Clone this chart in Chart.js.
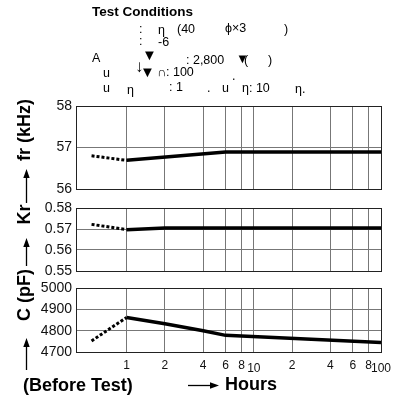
<!DOCTYPE html>
<html>
<head>
<meta charset="utf-8">
<script src="https://cdn.jsdelivr.net/npm/chart.js@4"></script>
<style>
  html, body { margin: 0; padding: 0; background: #fff; }
  #wrap { position: relative; width: 400px; height: 398px; }
  #wrap canvas { position: absolute; left: 0; top: 0; }
</style>
</head>
<body>
<div id="wrap">
  <canvas id="frChart" width="400" height="398"></canvas>
  <canvas id="krChart" width="400" height="398"></canvas>
  <canvas id="capChart" width="400" height="398"></canvas>
</div>
<script>
// x axis (hours, log scale)
const hourTicks = [1, 2, 4, 6, 8, 10, 20, 40, 60, 80, 100];
const hourLabels = ['1', '2', '4', '6', '8', '10', '2', '4', '6', '8', '100'];

// "before test" segment runs from here up to 1 hour
const beforeHours = [0.53, 1];

// resonant frequency fr (kHz)
const frBefore = [56.80, 56.69];
const frHours = [1, 6, 100];
const frValues = [56.69, 56.89, 56.89];

// coupling factor Kr
const krBefore = [0.5722, 0.5697];
const krHours = [1, 2, 100];
const krValues = [0.5697, 0.5705, 0.5705];

// capacitance C (pF)
const capBefore = [4752, 4862];
const capHours = [1, 2, 4, 6, 100];
const capValues = [4862, 4832, 4800, 4778, 4744];

const FONT = "'Liberation Sans', Arial, Helvetica, sans-serif";
const GRID = '#777';
const EDGE = '#222';

// header text, placed by hand (x left, y middle)
const header = [
  ['Test Conditions', 92, 12, 'bold 13.5px'],
  [':', 139, 30], ['\u03B7', 158, 31], ['(40', 177, 30], ['\u03D5\u00D73', 225, 29], [')', 284, 30],
  [':', 139, 42], ['-6', 158, 43],
  ['A', 92, 59], ['\u25BC', 142, 56, '15px'], [': 2,800', 186, 61], ['\u25BC', 236, 59, '13px'], ['(', 244, 61], [')', 268, 61],
  ['u', 103, 74], ['\u2193', 135, 67, 'bold 17px'], ['\u25BC', 140, 73, '15px'], ['\u2229: 100', 157, 73], ['.', 232, 77],
  ['u', 103, 89], ['\u03B7', 127, 91], [': 1', 169, 88], ['.', 207, 89], ['u', 222, 89], ['\u03B7: 10', 242, 89], ['\u03B7.', 295, 90]
];

function arrow(ctx, x1, y1, x2, y2) {
  const a = Math.atan2(y2 - y1, x2 - x1);
  const len = 9, hw = 3.2;
  ctx.beginPath();
  ctx.moveTo(x1, y1);
  ctx.lineTo(x2 - Math.cos(a) * len, y2 - Math.sin(a) * len);
  ctx.stroke();
  ctx.beginPath();
  ctx.moveTo(x2, y2);
  ctx.lineTo(x2 - Math.cos(a) * len - Math.sin(a) * hw, y2 - Math.sin(a) * len + Math.cos(a) * hw);
  ctx.lineTo(x2 - Math.cos(a) * len + Math.sin(a) * hw, y2 - Math.sin(a) * len - Math.cos(a) * hw);
  ctx.closePath();
  ctx.fill();
}

const decor = {
  id: 'decor',
  afterDraw(chart) {
    const ctx = chart.ctx;
    ctx.save();
    ctx.fillStyle = '#000';
    ctx.strokeStyle = '#000';
    ctx.textBaseline = 'middle';
    ctx.textAlign = 'left';
    header.forEach(([t, x, y, f]) => {
      ctx.font = (f || '12.5px') + ' ' + FONT;
      ctx.fillText(t, x, y);
    });
    ctx.font = 'bold 18px ' + FONT;
    ctx.textBaseline = 'alphabetic';
    ctx.fillText('(Before Test)', 23, 391);
    ctx.lineWidth = 1.3;
    arrow(ctx, 26.5, 203, 26.5, 169);
    arrow(ctx, 26.5, 266, 26.5, 238);
    arrow(ctx, 26.5, 370, 26.5, 338);
    arrow(ctx, 188, 385.5, 219, 385.5);
    ctx.restore();
  }
};

function pts(xs, ys) {
  return xs.map((x, i) => ({x: x, y: ys[i]}));
}

function panel(id, o) {
  return new Chart(document.getElementById(id), {
    type: 'line',
    data: {
      datasets: [
        {
          data: pts(beforeHours, o.before),
          borderColor: '#000',
          borderWidth: 3,
          borderDash: [3, 2],
          pointRadius: 0,
          fill: false
        },
        {
          data: pts(o.hours, o.values),
          borderColor: '#000',
          borderWidth: 3.5,
          pointRadius: 0,
          fill: false
        }
      ]
    },
    options: {
      responsive: false,
      animation: false,
      devicePixelRatio: 1,
      layout: {padding: {left: 0, right: 19, top: o.top, bottom: o.bottom}},
      plugins: {legend: {display: false}, tooltip: {enabled: false}},
      scales: {
        x: {
          type: 'logarithmic',
          min: 0.4,
          max: 100,
          bounds: 'data',
          afterBuildTicks: s => { s.ticks = hourTicks.map(v => ({value: v})); },
          afterFit: s => { s.height = o.showHours ? 46 : 0; },
          grid: {
            color: c => (c.tick && c.tick.value === 100 ? EDGE : GRID),
            lineWidth: 1,
            drawTicks: false
          },
          border: {color: EDGE, width: 1},
          ticks: {
            display: o.showHours,
            autoSkip: false,
            maxRotation: 0,
            padding: 6,
            color: '#111',
            font: c => ({
              family: FONT,
              size: 12,
              lineHeight: c.tick && (c.tick.value === 10 || c.tick.value === 100) ? 1.85 : 1.2
            }),
            callback: (v, i) => hourLabels[i]
          },
          title: {
            display: o.showHours,
            text: ' '.repeat(9) + 'Hours',
            color: '#000',
            font: {family: FONT, size: 18, weight: 'bold'},
            padding: {top: 0, bottom: 2.5}
          }
        },
        y: {
          min: o.min,
          max: o.max,
          afterFit: s => { s.width = 76; },
          grid: {
            color: c => (c.tick && c.tick.value === o.max ? EDGE : GRID),
            lineWidth: 1,
            drawTicks: false
          },
          border: {color: EDGE, width: 1},
          ticks: {
            stepSize: o.step,
            padding: 4,
            color: '#111',
            font: {family: FONT, size: 14},
            callback: v => v.toFixed(o.digits)
          },
          title: {
            display: true,
            text: ' '.repeat(o.shift) + o.title,
            color: '#000',
            font: {family: FONT, size: 18, weight: 'bold'},
            padding: {top: 14, bottom: 0}
          }
        }
      }
    },
    plugins: o.plugins || []
  });
}

panel('frChart', {
  before: frBefore, hours: frHours, values: frValues,
  min: 56, max: 58, step: 1, digits: 0,
  title: 'fr (kHz)', shift: 7,
  top: 106, bottom: 398 - 189, showHours: false
});

panel('krChart', {
  before: krBefore, hours: krHours, values: krValues,
  min: 0.55, max: 0.58, step: 0.01, digits: 2,
  title: 'Kr', shift: 10,
  top: 208, bottom: 398 - 271, showHours: false
});

panel('capChart', {
  before: capBefore, hours: capHours, values: capValues,
  min: 4700, max: 5000, step: 100, digits: 0,
  title: 'C (pF)', shift: 10,
  top: 288, bottom: 0, showHours: true,
  plugins: [decor]
});
</script>
</body>
</html>
